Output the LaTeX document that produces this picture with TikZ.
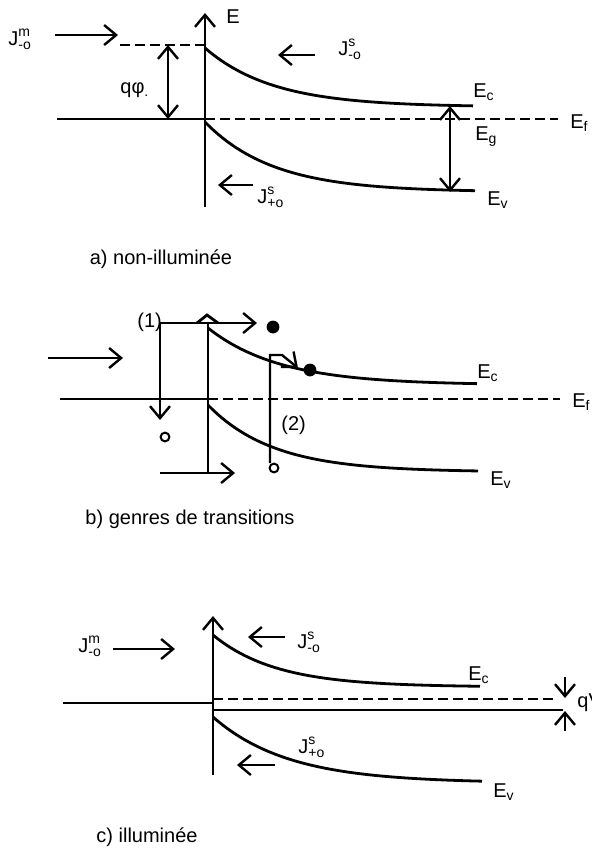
\documentclass[tikz,border=0pt]{standalone}
\usepackage{fontspec}
\usepackage{amsmath}
\setmainfont{Liberation Sans}
\usetikzlibrary{arrows.meta}
\newcommand{\Jcur}[2]{$\text{J}^{\text{#1}}_{\text{#2}}$}
\newcommand{\En}[1]{$\text{E}_{\text{#1}}$}
\tikzset{
  band/.style={line width=1.4pt},
  fermi/.style={line width=1pt, dash pattern=on 5pt off 2.5pt},
  barb/.style={line width=1.2pt, -{Straight Barb[length=6pt,width=10pt]}},
  dbarb/.style={line width=1.2pt, {Straight Barb[length=6pt,width=10pt]}-{Straight Barb[length=6pt,width=10pt]}},
  lbl/.style={anchor=base west, inner sep=0pt, font=\fontsize{10}{12}\selectfont},
  caption/.style={inner sep=0pt, font=\fontsize{10}{12}\selectfont},
  hole/.style={line width=1pt},
}
\begin{document}
\begin{tikzpicture}[x=0.5pt, y=-0.5pt]
    \useasboundingbox (0,0) rectangle (592,848);
    % a) non-illuminee
    \draw[barb] (205,207) -- (205,13);
    \node[lbl] (Ea) at (226,23) {E};
    \draw[barb] (55,35) -- (118,35);
    \node[lbl] (Jma) at (8,45) {\Jcur{m}{-o}};
    \draw[fermi] (120,45) -- (205,45);
    \draw[dbarb] (168,45) -- (168,119);
    \node[lbl] (phia) at (120,93) {qφ\textsubscript{.}};
    \draw[band] (57,119) -- (205,119);
    \draw[fermi] (205,119) -- (558,119);
    \node[lbl] (Efa) at (570,128) {\En{f}};
    \draw[band] plot[domain=205:473, samples=60] (\x, {107-59*exp(-(\x-205)/68)});
    \draw[band] plot[domain=205:475, samples=60] (\x, {192-70*exp(-(\x-205)/68)});
    \draw[dbarb] (450,106) -- (450,192);
    \node[lbl] (Eca) at (473,97) {\En{c}};
    \node[lbl] (Ega) at (475,140) {\En{g}};
    \node[lbl] (Eva) at (487,205) {\En{v}};
    \draw[barb] (315,55) -- (278,55);
    \node[lbl] (Jsma) at (338,55) {\Jcur{s}{-o}};
    \draw[barb] (253,185) -- (218,185);
    \node[lbl] (Jspa) at (257,203) {\Jcur{s}{+o}};
    \node[caption] (capa) at (161,259) {a) non-illuminée};
    % b) genres de transitions
    \draw[band] (208,323) -- (208,473);
    \draw[band] (197,323) -- (207,315) -- (218,323);
    \draw[dbarb] (160,420) -- (160,323) -- (257,323);
    \node[lbl] (onb) at (137,327) {(1)};
    \draw[hole] (165,437) circle (2.2pt);
    \fill (273,327) circle (3.2pt);
    \draw[barb] (48,358) -- (123,358);
    \draw[band] (60,399) -- (208,399);
    \draw[fermi] (208,399) -- (560,399);
    \node[lbl] (Efb) at (572,407) {\En{f}};
    \draw[band] plot[domain=208:477, samples=60] (\x, {385-57*exp(-(\x-208)/72)});
    \draw[band] plot[domain=208:478, samples=60] (\x, {472-67*exp(-(\x-208)/65)});
    \draw[barb] (160,473) -- (235,473);
    \draw[barb] (270,463) -- (270,355) -- (282,355) -- (298,368);
    \draw[hole] (274,468) circle (2.2pt);
    \fill (310,370) circle (3.2pt);
    \node[lbl] (twb) at (281,430) {(2)};
    \node[lbl] (Ecb) at (477,378) {\En{c}};
    \node[lbl] (Evb) at (490,485) {\En{v}};
    \node[caption] (capb) at (190,519) {b) genres de transitions};
    % c) illuminee
    \draw[barb] (213,775) -- (213,616);
    \draw[barb] (113,649) -- (175,649);
    \node[lbl] (Jmc) at (78,652) {\Jcur{m}{-o}};
    \draw[barb] (285,637) -- (248,637);
    \node[lbl] (Jsmc) at (297,648) {\Jcur{s}{-o}};
    \draw[band] (63,703) -- (213,703);
    \draw[fermi] (213,699) -- (557,699);
    \draw[band] (213,710) -- (563,710);
    \draw[barb] (565,677) -- (565,698);
    \draw[barb] (565,731) -- (565,711);
    \node[lbl] (qvc) at (577,707) {qV};
    \draw[band] plot[domain=213:480, samples=60] (\x, {687-52*exp(-(\x-213)/63)});
    \draw[band] plot[domain=213:482, samples=60] (\x, {783-66*exp(-(\x-213)/75)});
    \node[lbl] (Ecc) at (468,680) {\En{c}};
    \draw[barb] (275,765) -- (237,765);
    \node[lbl] (Jspc) at (298,753) {\Jcur{s}{+o}};
    \node[lbl] (Evc) at (493,797) {\En{v}};
    \node[caption] (capc) at (147,837) {c) illuminée};
\end{tikzpicture}
\end{document}
